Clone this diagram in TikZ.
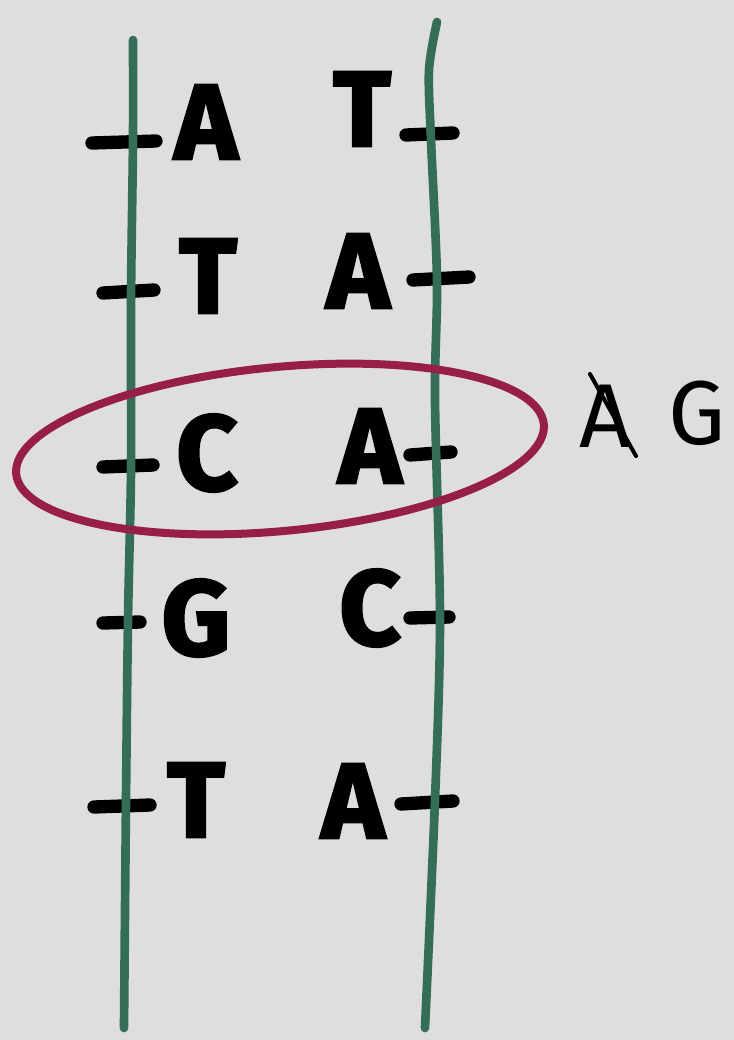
\documentclass[tikz,border=0pt]{standalone}
\usepackage{fontspec}
\setmainfont{Fira Sans}[BoldFeatures={FakeBold=2.5}]
\begin{document}
\begin{tikzpicture}[x=0.75pt,y=-0.75pt,
  base/.style={font=\fontsize{80}{80}\selectfont\bfseries, inner sep=0pt, text=black},
  note/.style={font=\fontsize{68}{68}\selectfont, inner sep=0pt, text=black},
  strandline/.style={draw=strand, line width=6.5pt, line cap=round},
  tickline/.style={draw=black, line width=10pt, line cap=round},
  loopline/.style={draw=loopc, line width=6pt}]
\definecolor{bg}{RGB}{222,222,222}
\definecolor{strand}{RGB}{52,110,86}
\definecolor{loopc}{RGB}{150,30,72}
\fill[bg] (0,0) rectangle (734,1040);
\useasboundingbox (0,0) rectangle (734,1040);

% left bases
\node[base] (l1) at (206,122) {A};
\node[base] (l2) at (208,276) {T};
\node[base] (l3) at (207,453) {C};
\node[base] (l4) at (196,618) {G};
\node[base] (l5) at (196,800) {T};
% right bases
\node[base] (r1) at (362,109) {T};
\node[base] (r2) at (358,271) {A};
\node[base] (r3) at (370,446) {A};
\node[base] (r4) at (370,608) {C};
\node[base] (r5) at (353,801) {A};

% ticks
\coordinate (lt1a) at (92,143); \coordinate (lt1b) at (156,141);
\coordinate (lt2a) at (103,293); \coordinate (lt2b) at (154,290);
\coordinate (lt3a) at (103,467); \coordinate (lt3b) at (153,465);
\coordinate (lt4a) at (103,623); \coordinate (lt4b) at (140,622);
\coordinate (lt5a) at (94,807); \coordinate (lt5b) at (150,805);
\coordinate (rt1a) at (406,135); \coordinate (rt1b) at (453,133);
\coordinate (rt2a) at (413,280); \coordinate (rt2b) at (469,277);
\coordinate (rt3a) at (410,455); \coordinate (rt3b) at (451,452);
\coordinate (rt4a) at (410,618); \coordinate (rt4b) at (449,617);
\coordinate (rt5a) at (401,804); \coordinate (rt5b) at (453,801);
\foreach \s in {lt1,lt2,lt3,lt4,lt5,rt1,rt2,rt3,rt4,rt5}
  \draw[tickline] (\s a) -- (\s b);

% backbones
\draw[strandline] plot[smooth] coordinates {(133,40) (133,140) (131,300) (131,470) (128,620) (126,800) (124,1028)};
\draw[strandline] plot[smooth] coordinates {(437,22) (429,70) (431,140) (437,280) (435,400) (440,620) (435,800) (425,1028)};

% mismatch loop
\draw[loopline, rotate around={5.4:(280,449)}] (280,449) ellipse (265 and 82);

% correction note
\node[note] (old) at (605,416) {A};
\coordinate (xa) at (590,374); \coordinate (xb) at (636,456);
\draw[black, line width=3pt, line cap=round] (xa) -- (xb);
\node[note] (new) at (697,413) {G};
\end{tikzpicture}
\end{document}
